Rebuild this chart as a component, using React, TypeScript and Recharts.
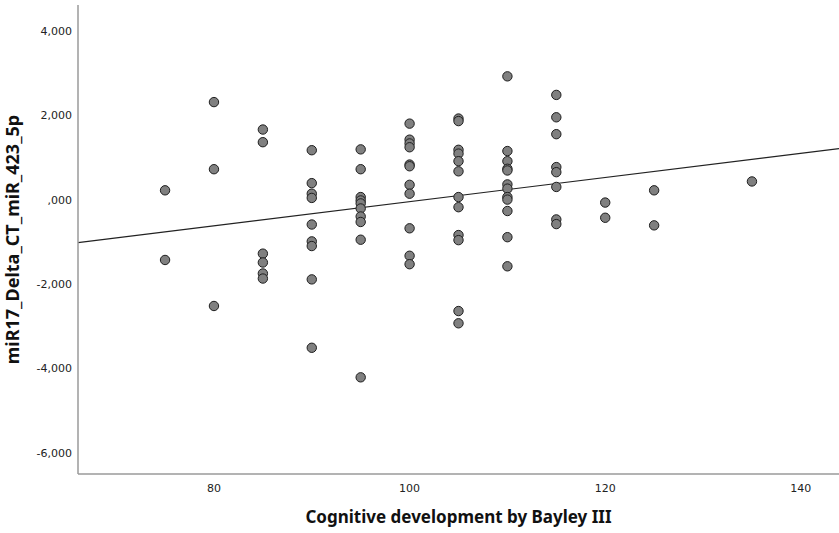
import {
  ScatterChart,
  Scatter,
  XAxis,
  YAxis,
  ReferenceLine,
} from 'recharts';

// Bayley III cognitive scores (x) and the miR17 delta CT values read at each score
const scores = [75, 80, 85, 90, 95, 100, 105, 110, 115, 120, 125, 135];
const mirValues = [
  [0.22, -1.43],
  [2.31, 0.72, -2.52],
  [1.66, 1.36, -1.28, -1.49, -1.75, -1.87],
  [1.17, 0.39, 0.14, 0.04, -0.59, -0.99, -1.1, -1.89, -3.51],
  [1.19, 0.72, 0.06, -0.02, -0.09, -0.21, -0.4, -0.53, -0.95, -4.21],
  [1.8, 1.42, 1.33, 1.24, 0.83, 0.79, 0.35, 0.14, -0.68, -1.33, -1.53],
  [1.92, 1.86, 1.18, 1.09, 0.91, 0.67, 0.06, -0.18, -0.84, -0.96, -2.64, -2.93],
  [2.92, 1.15, 0.91, 0.73, 0.69, 0.36, 0.26, 0.06, 0.0, -0.27, -0.89, -1.58],
  [2.48, 1.95, 1.55, 0.77, 0.65, 0.3, -0.47, -0.58],
  [-0.07, -0.43],
  [0.22, -0.61],
  [0.43],
];
const xTicks = [80, 100, 120, 140];
const yTicks = [-6, -4, -2, 0, 2, 4];
const xDomain = [66.1, 143.9];
const yDomain = [-6.5, 4.61];

// fit line
const fitIntercept = -2.917;
const fitSlope = 0.02868;

const points = scores.flatMap((score, i) =>
  mirValues[i].map((v) => ({ score, value: v }))
);

const fitSegment = xDomain.map((x) => ({ x, y: fitIntercept + fitSlope * x }));

const formatY = (v: number) => (v === 0 ? ',000' : `${v},000`);

const tickStyle = { fontSize: 11, fill: '#222', fontFamily: 'DejaVu Sans' };
const labelStyle = {
  fontSize: 17,
  fontWeight: 700,
  fill: '#111',
  fontFamily: 'Noto Sans',
};

const Dot = (props: any) => (
  <circle
    cx={props.cx}
    cy={props.cy}
    r={4.7}
    fill="#808080"
    stroke="#1e1e1e"
    strokeWidth={1}
  />
);

export default function App() {
  return (
    <div style={{ position: 'absolute', left: 0, top: 0, background: '#fff' }}>
      <ScatterChart
        width={839}
        height={533}
        margin={{ top: 5, right: 0, bottom: 0, left: 0 }}
      >
        <XAxis
          type="number"
          dataKey="score"
          domain={xDomain}
          ticks={xTicks}
          allowDataOverflow
          height={59}
          tickSize={0}
          tickMargin={10}
          tick={tickStyle}
          stroke="#9a9a9a"
          strokeWidth={1.5}
          label={{
            value: 'Cognitive development by Bayley III',
            position: 'insideBottom',
            offset: 10,
            style: labelStyle,
          }}
        />
        <YAxis
          type="number"
          dataKey="value"
          domain={yDomain}
          ticks={yTicks}
          allowDataOverflow
          width={78}
          tickSize={0}
          tickMargin={6}
          tick={tickStyle}
          tickFormatter={formatY}
          stroke="#9a9a9a"
          strokeWidth={1.5}
          label={{
            value: 'miR17_Delta_CT_miR_423_5p',
            angle: -90,
            position: 'insideLeft',
            offset: 13,
            style: { ...labelStyle, fontSize: 18, textAnchor: 'middle' },
          }}
        />
        <ReferenceLine
          segment={fitSegment}
          stroke="#222"
          strokeWidth={1.2}
          ifOverflow="visible"
        />
        <Scatter data={points} shape={Dot} isAnimationActive={false} />
      </ScatterChart>
    </div>
  );
}
